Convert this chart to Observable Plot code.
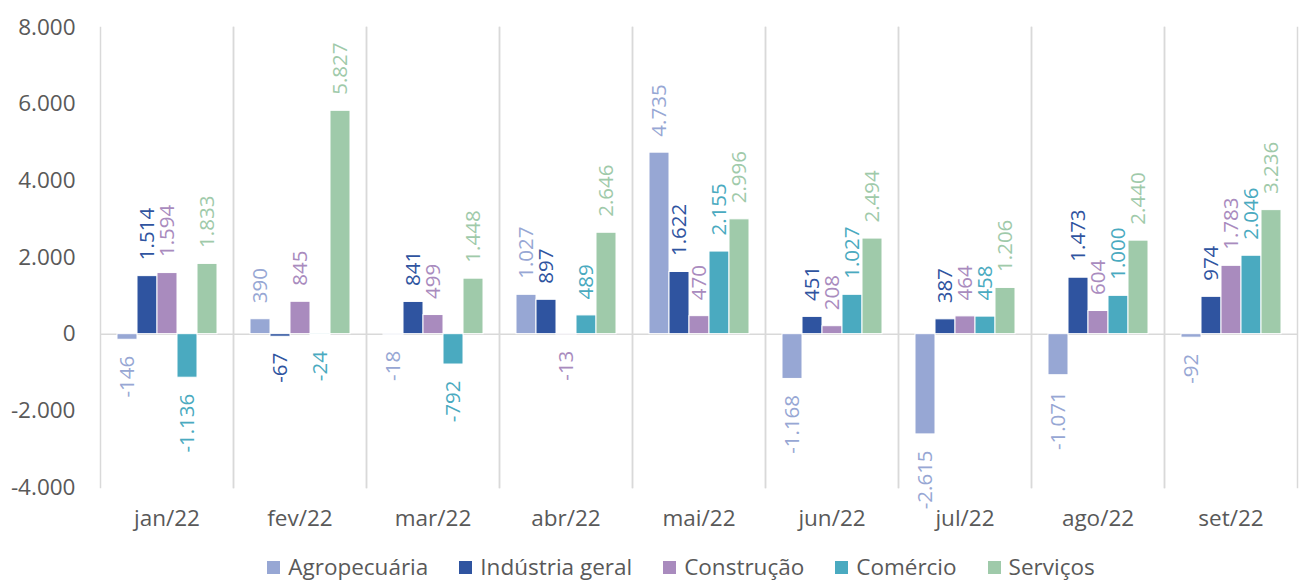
<!DOCTYPE html>
<html>
<head>
<meta charset="utf-8">
<script src="https://cdn.jsdelivr.net/npm/d3@7"></script>
<script src="https://cdn.jsdelivr.net/npm/@observablehq/plot@0.6"></script>
<style>
  html, body { margin: 0; padding: 0; background: #fff; overflow: hidden; }
  #chart { width: 1299px; height: 550px; }
  #legend { display: flex; justify-content: center; align-items: center; padding-left: 63px; box-sizing: border-box; width: 1299px;
    font-family: "Open Sans", sans-serif; font-size: 22.5px; color: #595959; height: 32px; line-height: 32px; gap: 31px; margin-top: 1px; }
  .item { display: flex; align-items: center; gap: 8px; }
  .sw { width: 13px; height: 13px; display: inline-block; }
</style>
</head>
<body>
<div id="chart"></div>
<div id="legend"></div>
<script>
const months = ["jan/22", "fev/22", "mar/22", "abr/22", "mai/22", "jun/22", "jul/22", "ago/22", "set/22"];
const series = ["Agropecuária", "Indústria geral", "Construção", "Comércio", "Serviços"];
const agropecuaria = [-146, 390, -18, 1027, 4735, -1168, -2615, -1071, -92];
const industria = [1514, -67, 841, 897, 1622, 451, 387, 1473, 974];
const construcao = [1594, 845, 499, -13, 470, 208, 464, 604, 1783];
const comercio = [-1136, -24, -792, 489, 2155, 1027, 458, 1000, 2046];
const servicos = [1833, 5827, 1448, 2646, 2996, 2494, 1206, 2440, 3236];
const yTicks = [-4000, -2000, 0, 2000, 4000, 6000, 8000];
const colors = ["#97A7D4", "#2F54A0", "#A98BBE", "#4AAAC0", "#9FCAAA"];

const valuesBySeries = [agropecuaria, industria, construcao, comercio, servicos];
const data = [];
months.forEach((m, i) => {
  series.forEach((s, j) => data.push({month: m, series: s, value: valuesBySeries[j][i]}));
});

const loc = d3.formatLocale({decimal: ",", thousands: ".", grouping: [3], currency: ["", ""], minus: "-"});
const fmt = loc.format(",d");

const font = '"Open Sans", sans-serif';

const chart = Plot.plot({
  width: 1299,
  height: 550,
  marginLeft: 99,
  marginRight: 1,
  marginTop: 27,
  marginBottom: 63,
  style: {fontFamily: font, fontSize: "22.5px", color: "#595959", background: "white"},
  fx: {domain: months, padding: 0, label: null, axis: "bottom", tickSize: 0, tickPadding: 23},
  x: {domain: series, paddingInner: 0, paddingOuter: 0.73, axis: null},
  y: {domain: [-4000, 8000], ticks: yTicks, tickFormat: fmt, label: null, tickSize: 0, tickPadding: 25},
  color: {domain: series, range: colors},
  marks: [
    Plot.frame({anchor: "left", stroke: "#d9d9d9", strokeWidth: 1.5}),
    Plot.frame({anchor: "right", stroke: "#d9d9d9", strokeWidth: 1.5}),
    Plot.ruleY([0], {stroke: "#d9d9d9", strokeWidth: 1.5}),
    Plot.barY(data, {fx: "month", x: "series", y: "value", fill: "series", stroke: "white", strokeWidth: 1}),
    Plot.text(data.filter(d => d.value >= 0), {fx: "month", x: "series", y: "value", text: d => fmt(d.value),
      rotate: -90, textAnchor: "start", dy: -16, fill: "series", fontSize: 20.5, fontFamily: font}),
    Plot.text(data.filter(d => d.value < 0), {fx: "month", x: "series", y: "value", text: d => fmt(d.value),
      rotate: -90, textAnchor: "end", dy: 16, fill: "series", fontSize: 20.5, fontFamily: font})
  ]
});
document.getElementById("chart").appendChild(chart);

const legend = document.getElementById("legend");
series.forEach((s, j) => {
  const it = document.createElement("div");
  it.className = "item";
  const sw = document.createElement("span");
  sw.className = "sw";
  sw.style.background = colors[j];
  const t = document.createElement("span");
  t.textContent = s;
  it.appendChild(sw); it.appendChild(t);
  legend.appendChild(it);
});
</script>
</body>
</html>
